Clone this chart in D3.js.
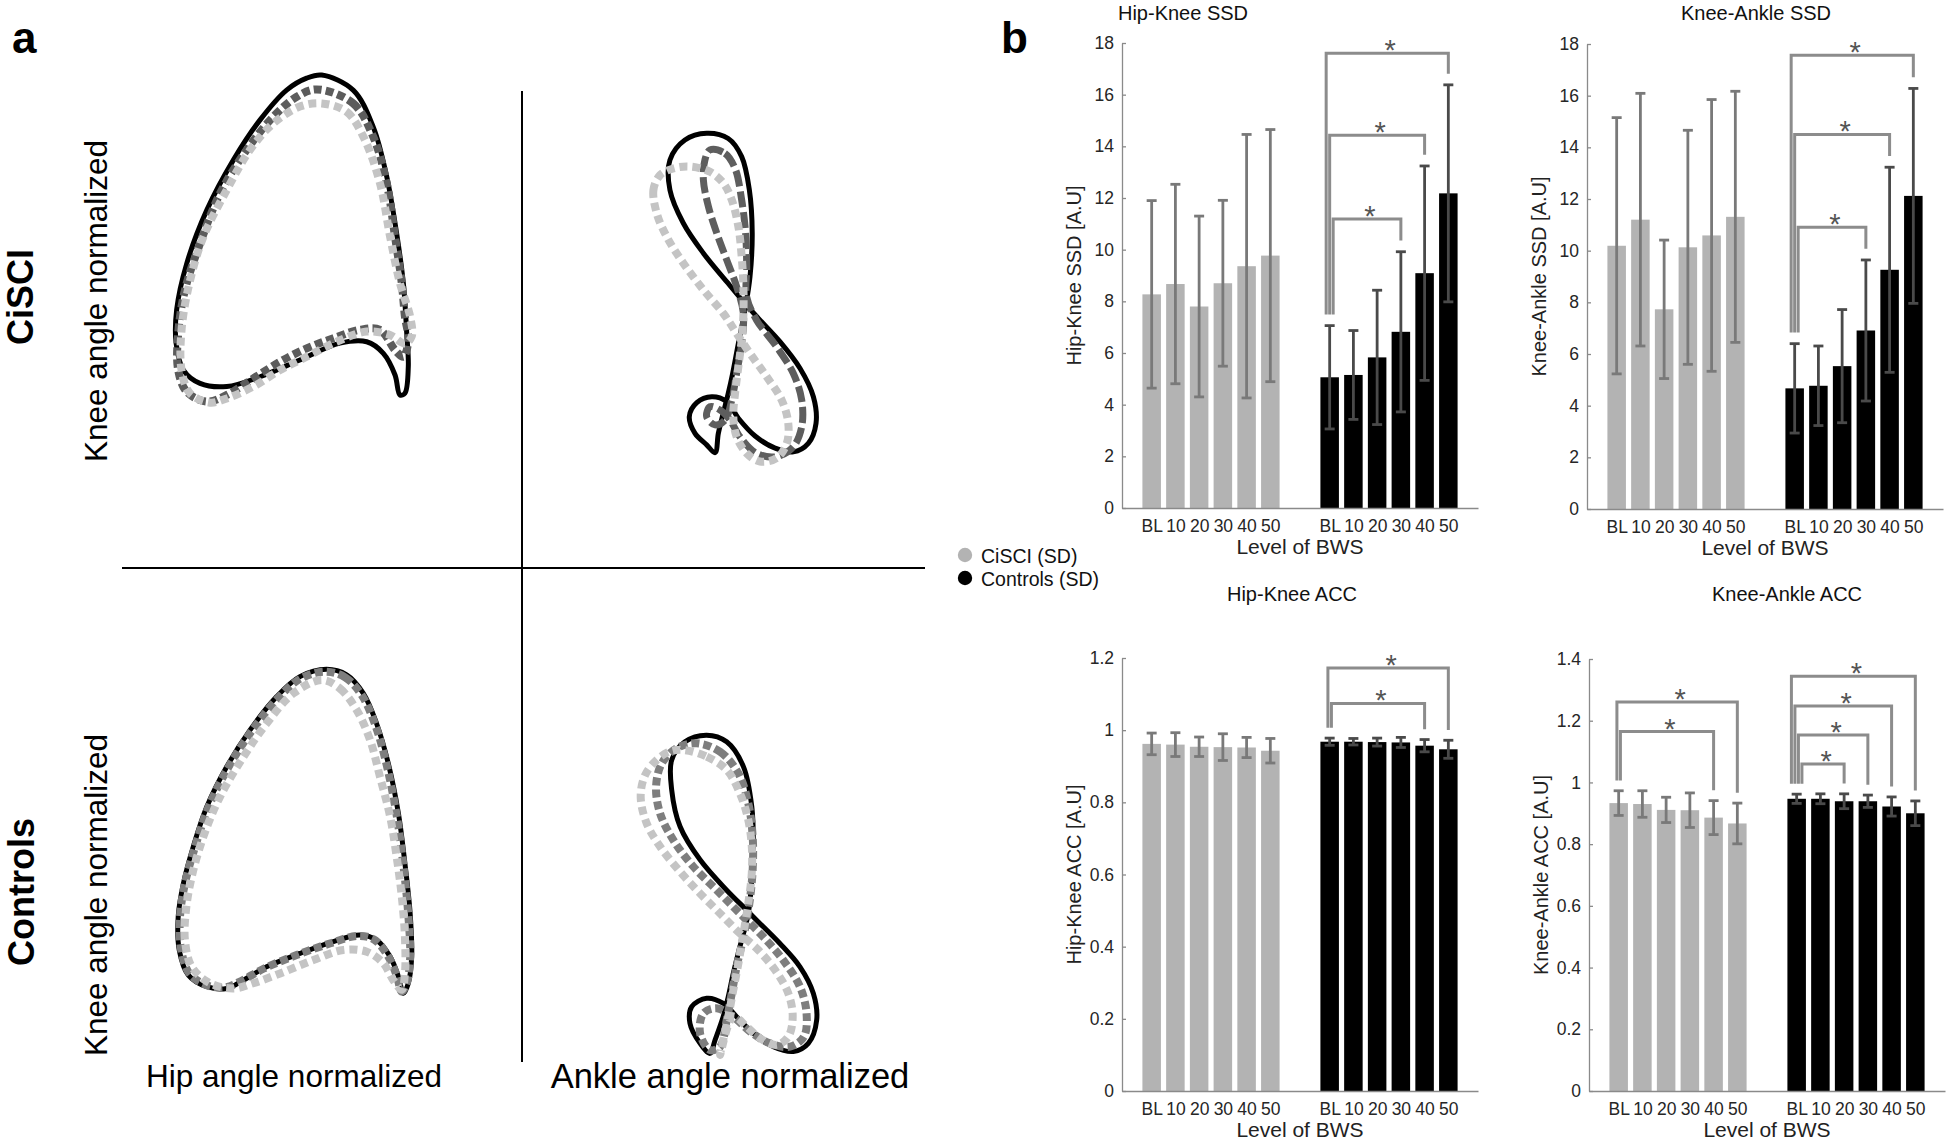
<!DOCTYPE html>
<html>
<head>
<meta charset="utf-8">
<script src="https://cdn.jsdelivr.net/npm/d3@7"></script>
<style>
  body { margin: 0; background: #fff; }
  text { font-family: "Liberation Sans", Arial, sans-serif; }
</style>
</head>
<body>
<svg id="fig" width="1946" height="1145"></svg>
<script>
// ---------- panel b : bar data ----------
var bwsLevels = ["BL", "10", "20", "30", "40", "50"];

var hkSsdCiSCI   = [8.27, 8.67, 7.80, 8.70, 9.36, 9.77];
var hkSsdCiSCISd = [3.63, 3.86, 3.50, 3.21, 5.10, 4.88];
var hkSsdCtrl    = [5.06, 5.15, 5.83, 6.82, 9.09, 12.18];
var hkSsdCtrlSd  = [2.00, 1.72, 2.60, 3.10, 4.15, 4.20];

var kaSsdCiSCI   = [10.19, 11.20, 7.73, 10.13, 10.59, 11.31];
var kaSsdCiSCISd = [4.96, 4.89, 2.68, 4.53, 5.26, 4.86];
var kaSsdCtrl    = [4.67, 4.77, 5.53, 6.91, 9.26, 12.12];
var kaSsdCtrlSd  = [1.73, 1.54, 2.19, 2.73, 3.97, 4.16];

var hkAccCiSCI   = [0.962, 0.960, 0.954, 0.953, 0.952, 0.943];
var hkAccCiSCISd = [0.030, 0.033, 0.027, 0.037, 0.028, 0.034];
var hkAccCtrl    = [0.968, 0.968, 0.967, 0.966, 0.957, 0.947];
var hkAccCtrlSd  = [0.010, 0.009, 0.011, 0.014, 0.017, 0.025];

var kaAccCiSCI   = [0.933, 0.930, 0.911, 0.910, 0.886, 0.867];
var kaAccCiSCISd = [0.040, 0.043, 0.041, 0.056, 0.055, 0.066];
var kaAccCtrl    = [0.947, 0.947, 0.939, 0.939, 0.922, 0.900];
var kaAccCtrlSd  = [0.015, 0.016, 0.024, 0.020, 0.031, 0.040];

// significance brackets: [group, compared level, bracket height]
var hkSsdSig = [[1, "30", 11.19], [1, "40", 14.43], [1, "50", 17.6]];
var kaSsdSig = [[1, "30", 10.91], [1, "40", 14.5], [1, "50", 17.56]];
var hkAccSig = [[1, "40", 1.074], [1, "50", 1.172]];
var kaAccSig = [[0, "40", 1.165], [0, "50", 1.261],
                [1, "20", 1.06], [1, "30", 1.154], [1, "40", 1.248], [1, "50", 1.344]];

var ssdTicks = [0, 2, 4, 6, 8, 10, 12, 14, 16, 18];
var hkAccTicks = [0, 0.2, 0.4, 0.6, 0.8, 1, 1.2];
var kaAccTicks = [0, 0.2, 0.4, 0.6, 0.8, 1, 1.2, 1.4];

// ---------- panel a : angle-angle curves (normalized, 0-100) ----------
var ciHkBlack = [[62.2,95.7],[74.3,91.4],[82.0,80.9],[87.2,66.7],[91.0,50.5],[93.6,36.2],[94.9,21.9],[95.5,12.4],[94.2,4.8],[92.3,4.3],[90.4,10.0],[85.9,16.2],[79.5,19.5],[69.2,19.1],[53.8,14.3],[38.5,9.5],[25.7,6.7],[15.4,7.6],[9.0,11.4],[6.2,19.1],[6.4,28.6],[10.3,41.9],[18.0,57.1],[28.2,71.4],[38.5,82.9],[48.7,91.4],[56.4,94.8]];
var ciHkDark = [[60.3,91.6],[74.3,87.6],[82.0,78.1],[87.2,64.8],[90.4,49.5],[93.0,36.2],[94.2,26.7],[95.5,20.0],[93.6,15.2],[90.4,17.1],[84.6,22.9],[76.9,22.9],[66.7,20.5],[56.4,17.6],[46.2,13.8],[35.9,9.0],[25.7,4.3],[18.0,2.4],[10.3,5.2],[7.0,11.4],[7.0,21.9],[9.6,34.3],[15.4,47.6],[23.1,61.9],[33.3,74.3],[43.6,83.8],[52.6,89.5]];
var ciHkLight = [[62.2,87.6],[71.8,85.2],[78.2,78.1],[84.6,64.8],[88.5,49.5],[92.3,36.2],[96.2,26.7],[96.8,21.0],[94.2,19.0],[88.5,21.4],[79.5,22.4],[67.9,19.5],[56.4,15.2],[46.2,11.4],[35.9,6.7],[25.7,3.3],[19.2,2.1],[11.5,4.8],[8.3,11.4],[8.3,22.9],[11.3,36.2],[16.7,49.5],[25.7,62.9],[34.6,74.3],[43.6,81.9],[53.8,86.7]];

var ciAnBlack = [[43.2,7.4],[39.4,9.5],[34.1,12.6],[31.5,17.1],[34.9,20.9],[41.7,22.5],[48.5,21.2],[53.8,16.7],[61.4,11.9],[70.5,8.6],[78.8,7.6],[85.6,9.9],[89.1,15.3],[87.9,22.5],[81.8,30.2],[72.7,37.4],[62.9,43.7],[56.1,48.2],[48.5,53.6],[37.9,61.3],[28.8,69.4],[22.7,78.4],[22.7,86.5],[29.5,91.9],[39.4,93.7],[49.2,92.3],[55.3,87.4],[58.8,78.4],[60.1,66.7],[59.1,55.0],[56.8,45.9],[53.8,36.9],[51.2,28.8],[49.2,23.4],[46.9,18.0],[44.7,12.6]];
var ciAnDashed = [[40.9,89.2],[47.7,88.3],[52.3,84.2],[55.3,75.7],[57.1,66.7],[57.6,57.7],[57.6,49.5],[62.1,43.2],[71.2,36.0],[78.8,28.8],[82.6,21.6],[82.6,14.4],[78.8,9.0],[71.2,6.3],[62.1,7.2],[54.5,11.7],[50.0,16.2],[45.5,18.9],[40.9,19.8],[39.4,17.1],[43.2,14.9],[47.7,16.2],[50.8,21.6],[53.0,28.8],[55.3,36.9],[56.1,45.0],[53.0,52.3],[48.5,59.5],[44.0,66.7],[40.2,73.9],[37.9,81.1],[38.6,86.5]];
var ciAnLight = [[18.2,82.4],[15.2,78.4],[16.7,72.1],[21.2,65.8],[28.8,58.6],[37.9,51.4],[47.0,45.0],[53.0,39.6],[59.1,34.2],[66.7,27.9],[73.5,21.6],[76.5,15.3],[75.8,9.9],[71.2,5.9],[63.6,5.0],[57.6,7.2],[53.0,11.7],[51.5,17.1],[52.3,23.4],[53.8,30.6],[55.3,37.8],[56.1,45.0],[56.1,52.3],[55.3,60.4],[53.8,68.5],[50.8,75.7],[47.0,80.2],[40.9,83.3],[31.8,84.7],[24.2,84.2]];

var ctHkBlack = [[64.1,94.5],[71.8,92.9],[78.2,87.6],[83.3,79.0],[87.8,67.6],[91.7,53.3],[94.2,39.0],[96.2,24.8],[96.8,12.4],[95.5,4.8],[93.6,1.9],[91.7,6.7],[88.5,12.4],[83.3,17.1],[76.9,18.6],[66.7,16.7],[53.8,13.3],[41.0,9.5],[32.1,5.7],[25.7,3.3],[18.0,3.8],[10.9,7.1],[7.4,14.3],[7.0,23.8],[9.0,33.3],[12.8,43.8],[18.0,55.2],[25.7,66.7],[34.6,77.1],[44.9,86.7],[53.8,92.4]];
var ctHkMid = [[63.5,93.8],[71.2,92.2],[77.6,87.1],[82.8,78.6],[87.2,67.1],[91.0,52.9],[93.6,38.6],[95.5,24.3],[96.2,11.9],[94.9,4.8],[93.0,2.4],[91.0,7.1],[87.4,12.9],[82.3,17.3],[75.9,18.3],[65.6,16.2],[52.8,12.9],[40.0,9.0],[31.4,5.5],[25.0,3.6],[17.7,4.3],[11.3,7.6],[8.1,14.5],[7.7,23.8],[9.6,33.3],[13.5,43.8],[18.6,55.0],[26.3,66.5],[35.3,76.9],[45.3,86.2],[54.2,91.9]];
var ctHkLight = [[62.2,91.4],[69.2,89.0],[75.6,82.9],[80.8,74.3],[84.6,63.8],[88.5,52.4],[91.0,41.0],[93.0,29.5],[94.2,18.1],[94.2,7.6],[93.0,2.9],[89.7,5.7],[85.9,10.5],[79.5,13.8],[70.5,14.3],[59.0,11.4],[46.2,7.6],[35.9,4.8],[28.2,3.3],[19.2,4.8],[12.2,9.5],[9.6,17.1],[10.0,25.7],[12.2,35.2],[16.7,46.7],[23.1,58.1],[32.1,69.5],[41.0,79.0],[51.3,87.6]];

var ctAnBlack = [[39.4,90.5],[48.5,88.7],[56.1,82.0],[59.9,71.2],[60.6,60.4],[59.9,51.4],[58.3,42.3],[54.5,33.3],[51.5,26.1],[49.2,19.8],[46.9,14.4],[43.2,8.1],[40.9,4.5],[36.4,7.2],[31.8,12.6],[32.6,17.1],[39.4,19.4],[47.0,18.0],[53.0,14.4],[60.6,9.9],[69.7,6.3],[78.8,5.0],[85.6,7.2],[89.4,13.5],[87.9,20.7],[81.8,27.9],[72.7,34.2],[62.1,40.5],[57.6,43.2],[48.5,48.6],[36.4,56.8],[27.3,65.8],[23.5,75.7],[23.5,83.8],[29.5,88.7]];
var ctAnMid = [[34.8,88.3],[45.5,86.0],[53.8,80.2],[58.3,72.1],[60.3,63.1],[60.3,54.1],[58.8,45.0],[56.1,36.0],[53.0,27.9],[50.8,20.7],[48.5,13.5],[45.5,6.3],[40.9,5.4],[36.4,9.9],[37.9,15.3],[43.9,16.7],[51.5,14.4],[59.1,10.4],[68.2,7.2],[77.3,6.3],[83.6,9.0],[84.8,15.3],[81.8,22.5],[74.2,29.7],[65.1,36.0],[54.5,42.3],[44.0,48.6],[33.3,55.0],[24.2,62.2],[18.2,69.4],[16.4,76.6],[19.0,82.9],[25.8,87.0]];
var ctAnLight = [[28.8,86.5],[39.4,84.7],[48.5,81.1],[54.5,74.8],[58.3,67.6],[59.9,60.4],[59.9,53.2],[58.3,45.0],[56.1,36.9],[53.8,28.8],[51.5,21.6],[49.2,14.4],[46.9,8.1],[45.5,4.1],[51.5,14.4],[57.6,11.7],[63.6,8.6],[71.2,6.8],[76.5,9.0],[78.5,14.4],[76.5,20.7],[70.5,27.0],[62.9,32.4],[54.5,36.9],[45.5,42.3],[36.4,47.7],[27.3,53.6],[18.2,60.4],[12.1,66.7],[9.4,73.9],[11.4,79.7],[16.7,83.8],[22.7,86.1]];

var svg = d3.select("#fig");
svg.append("rect").attr("width", 1946).attr("height", 1145).attr("fill", "#fff");

// ---------- panel a ----------
var styles = {
  black:  { stroke: "#000", width: 5, dash: null },
  dark:   { stroke: "#5c5c5c", width: 8, dash: "8,4" },
  mid:    { stroke: "#7e7e7e", width: 8, dash: "8,4" },
  dashed: { stroke: "#5e5e5e", width: 7, dash: "16,5" },
  light:  { stroke: "#c4c4c4", width: 8, dash: "8,5" }
};

var anglePanels = [
  { box: [160, 420, 410, 60], curves: [[ciHkBlack, "black"], [ciHkDark, "dark"], [ciHkLight, "light"]] },
  { box: [620, 840, 480, 110], curves: [[ciAnBlack, "black"], [ciAnDashed, "dashed"], [ciAnLight, "light"]] },
  { box: [160, 420, 1000, 650], curves: [[ctHkBlack, "black"], [ctHkMid, "mid"], [ctHkLight, "light"]] },
  { box: [620, 840, 1070, 700], curves: [[ctAnBlack, "black"], [ctAnMid, "mid"], [ctAnLight, "light"]] }
];

anglePanels.forEach(function(p) {
  var xs = d3.scaleLinear().domain([0, 100]).range([p.box[0], p.box[1]]);
  var ys = d3.scaleLinear().domain([0, 100]).range([p.box[2], p.box[3]]);
  var line = d3.line()
      .x(function(d) { return xs(d[0]); })
      .y(function(d) { return ys(d[1]); })
      .curve(d3.curveCatmullRomClosed.alpha(0.5));
  p.curves.forEach(function(c) {
    var s = styles[c[1]];
    svg.append("path")
        .attr("d", line(c[0]))
        .attr("fill", "none")
        .attr("stroke", s.stroke)
        .attr("stroke-width", s.width)
        .attr("stroke-dasharray", s.dash)
        .attr("stroke-linejoin", "round");
  });
});

// cross lines
svg.append("line").attr("x1", 122).attr("x2", 925).attr("y1", 568).attr("y2", 568)
    .attr("stroke", "#000").attr("stroke-width", 2);
svg.append("line").attr("x1", 522).attr("x2", 522).attr("y1", 91).attr("y2", 1062)
    .attr("stroke", "#000").attr("stroke-width", 2);

svg.append("text").attr("x", 12).attr("y", 53).text("a")
    .attr("font-size", 44).attr("font-weight", "bold");
svg.append("text").attr("x", 1001).attr("y", 53).text("b")
    .attr("font-size", 44).attr("font-weight", "bold");

function vText(x, y, txt, size, bold) {
  svg.append("text")
      .attr("transform", "translate(" + x + "," + y + ") rotate(-90)")
      .attr("text-anchor", "middle")
      .attr("font-size", size)
      .attr("font-weight", bold ? "bold" : "normal")
      .text(txt);
}
vText(33, 297, "CiSCI", 36, true);
vText(34, 892, "Controls", 36, true);
vText(107, 301, "Knee angle normalized", 31.5, false);
vText(107, 895, "Knee angle normalized", 31.5, false);

svg.append("text").attr("x", 294).attr("y", 1087).attr("text-anchor", "middle")
    .attr("font-size", 31.5).text("Hip angle normalized");
svg.append("text").attr("x", 730).attr("y", 1088).attr("text-anchor", "middle")
    .attr("font-size", 34.5).text("Ankle angle normalized");

// legend
var legendItems = [["CiSCI (SD)", "#b3b3b3"], ["Controls (SD)", "#000"]];
legendItems.forEach(function(d, i) {
  svg.append("circle").attr("cx", 965).attr("cy", 555 + i * 23).attr("r", 7.2).attr("fill", d[1]);
  svg.append("text").attr("x", 981).attr("y", 562.5 + i * 23)
      .attr("font-family", "'DejaVu Sans', Verdana, sans-serif")
      .attr("font-size", 19.5).attr("fill", "#111").text(d[0]);
});

// ---------- panel b ----------
function barChart(cfg) {
  var x = d3.scaleLinear().domain([0, 15]).range([cfg.x0, cfg.x0 + 356]);
  var y = d3.scaleLinear().domain([0, cfg.yMax]).range([cfg.yBot, cfg.yTop]);
  var g = svg.append("g");

  var bars = [];
  cfg.means[0].forEach(function(m, i) {
    bars.push({ grp: 0, lvl: bwsLevels[i], mean: m, sd: cfg.sds[0][i], pos: 1.25 + i });
  });
  cfg.means[1].forEach(function(m, i) {
    bars.push({ grp: 1, lvl: bwsLevels[i], mean: m, sd: cfg.sds[1][i], pos: 8.75 + i });
  });
  var bw = x(0.78) - x(0);

  g.selectAll("rect.bar").data(bars).enter().append("rect")
      .attr("class", "bar")
      .attr("x", function(d) { return x(d.pos) - bw / 2; })
      .attr("width", bw)
      .attr("y", function(d) { return y(d.mean); })
      .attr("height", function(d) { return y(0) - y(d.mean); })
      .attr("fill", function(d) { return d.grp ? "#000" : "#b3b3b3"; });

  // error bars
  var eb = g.selectAll("g.err").data(bars).enter().append("g")
      .attr("stroke", function(d) { return d.grp ? "#4a4a4a" : "#797979"; })
      .attr("stroke-width", 2.8);
  eb.append("line")
      .attr("x1", function(d) { return x(d.pos); }).attr("x2", function(d) { return x(d.pos); })
      .attr("y1", function(d) { return y(d.mean - d.sd); }).attr("y2", function(d) { return y(d.mean + d.sd); });
  eb.append("line")
      .attr("x1", function(d) { return x(d.pos) - 5; }).attr("x2", function(d) { return x(d.pos) + 5; })
      .attr("y1", function(d) { return y(d.mean + d.sd); }).attr("y2", function(d) { return y(d.mean + d.sd); });
  eb.append("line")
      .attr("x1", function(d) { return x(d.pos) - 5; }).attr("x2", function(d) { return x(d.pos) + 5; })
      .attr("y1", function(d) { return y(d.mean - d.sd); }).attr("y2", function(d) { return y(d.mean - d.sd); });

  // axes
  var yAxis = g.append("g").attr("transform", "translate(" + cfg.x0 + ",0)")
      .call(d3.axisLeft(y).tickValues(cfg.ticks).tickFormat(d3.format("~g"))
            .tickSizeInner(-4).tickSizeOuter(0).tickPadding(8));
  var xAxis = g.append("g").attr("transform", "translate(0," + cfg.yBot + ")")
      .call(d3.axisBottom(x).tickValues(bars.map(function(d) { return d.pos; }))
            .tickFormat(function(d, i) { return bars[i].lvl; })
            .tickSize(0).tickPadding(12));
  [yAxis, xAxis].forEach(function(a) {
    a.selectAll("path, line").attr("stroke", "#8a8a8a").attr("stroke-width", 1.3);
    a.selectAll("text").attr("font-size", 17.5).attr("fill", "#262626")
        .attr("font-family", "'Liberation Sans', Arial, sans-serif");
  });

  // significance brackets
  var pad = cfg.yMax * 0.024;
  [0, 1].forEach(function(grp) {
    var sig = cfg.sig.filter(function(s) { return s[0] === grp; })
        .sort(function(a, b) { return a[2] - b[2]; });
    var base = bars.filter(function(b) { return b.grp === grp && b.lvl === "BL"; })[0];
    sig.forEach(function(s, k) {
      var tgt = bars.filter(function(b) { return b.grp === grp && b.lvl === s[1]; })[0];
      var off = ((sig.length - 1) / 2 - k) * 3.5;
      var xl = x(base.pos) + off, xr = x(tgt.pos);
      var path = d3.path();
      path.moveTo(xl, y(base.mean + base.sd + pad));
      path.lineTo(xl, y(s[2]));
      path.lineTo(xr, y(s[2]));
      path.lineTo(xr, y(tgt.mean + tgt.sd + pad));
      g.append("path").attr("d", path.toString()).attr("fill", "none")
          .attr("stroke", "#8c8c8c").attr("stroke-width", 3);
      g.append("text").attr("x", (xl + xr) / 2 + 3).attr("y", y(s[2]) + 7)
          .attr("text-anchor", "middle").attr("font-size", 29).attr("fill", "#555").text("*");
    });
  });

  // labels
  g.append("text").attr("x", cfg.titleX).attr("y", cfg.titleY).attr("text-anchor", "middle")
      .attr("font-size", 20).attr("fill", "#111").text(cfg.title);
  g.append("text")
      .attr("transform", "translate(" + (cfg.x0 - 41) + "," + ((cfg.yTop + cfg.yBot) / 2) + ") rotate(-90)")
      .attr("text-anchor", "middle").attr("font-size", 20).attr("fill", "#222").text(cfg.ylabel);
  g.append("text").attr("x", cfg.x0 + 178).attr("y", cfg.yBot + 46).attr("text-anchor", "middle")
      .attr("font-size", 21).attr("fill", "#222").text("Level of BWS");
}

barChart({ x0: 1122, yTop: 43, yBot: 508, yMax: 18, ticks: ssdTicks,
  means: [hkSsdCiSCI, hkSsdCtrl], sds: [hkSsdCiSCISd, hkSsdCtrlSd], sig: hkSsdSig,
  title: "Hip-Knee SSD", titleX: 1183, titleY: 20, ylabel: "Hip-Knee SSD [A.U]" });
barChart({ x0: 1587, yTop: 44, yBot: 509, yMax: 18, ticks: ssdTicks,
  means: [kaSsdCiSCI, kaSsdCtrl], sds: [kaSsdCiSCISd, kaSsdCtrlSd], sig: kaSsdSig,
  title: "Knee-Ankle SSD", titleX: 1756, titleY: 20, ylabel: "Knee-Ankle SSD [A.U]" });
barChart({ x0: 1122, yTop: 658, yBot: 1091, yMax: 1.2, ticks: hkAccTicks,
  means: [hkAccCiSCI, hkAccCtrl], sds: [hkAccCiSCISd, hkAccCtrlSd], sig: hkAccSig,
  title: "Hip-Knee ACC", titleX: 1292, titleY: 601, ylabel: "Hip-Knee ACC [A.U]" });
barChart({ x0: 1589, yTop: 659, yBot: 1091, yMax: 1.4, ticks: kaAccTicks,
  means: [kaAccCiSCI, kaAccCtrl], sds: [kaAccCiSCISd, kaAccCtrlSd], sig: kaAccSig,
  title: "Knee-Ankle ACC", titleX: 1787, titleY: 601, ylabel: "Knee-Ankle ACC [A.U]" });
</script>
</body>
</html>
